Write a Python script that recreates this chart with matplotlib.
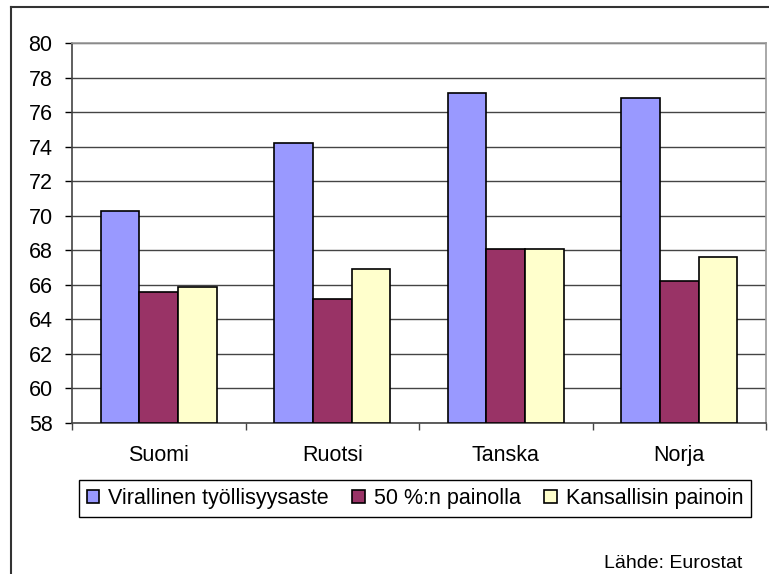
import matplotlib
matplotlib.use("Agg")
import matplotlib.pyplot as plt
from matplotlib.lines import Line2D
import numpy as np

plt.rcParams['font.family'] = ['Liberation Sans', 'DejaVu Sans']

categories = ["Suomi", "Ruotsi", "Tanska", "Norja"]
series_names = ["Virallinen työllisyysaste", "50 %:n painolla", "Kansallisin painoin"]
virallinen = [70.3, 74.2, 77.1, 76.8]
painolla50 = [65.6, 65.2, 68.1, 66.2]
kansallisin = [65.9, 66.9, 68.1, 67.6]
colors = ["#9999FF", "#993366", "#FFFFCC"]
yticks = list(range(58, 81, 2))

W, H = 769, 574
fig = plt.figure(figsize=(W/100, H/100), dpi=100)
ax = fig.add_axes([72/W, 1-423/H, (766-72)/W, (423-43)/H])

x = np.arange(len(categories))
bw = 0.667/3
for i, (vals, name, c) in enumerate(zip([virallinen, painolla50, kansallisin], series_names, colors)):
    ax.bar(x + (i-1)*bw, np.array(vals) - 58, bottom=58, width=bw, color=c,
           edgecolor='black', linewidth=1.2, label=name, zorder=3)

ax.set_xlim(-0.5, len(categories)-0.5)
ax.set_ylim(58, 80)
ax.set_yticks(yticks)
ax.set_yticklabels([str(t) for t in yticks], fontsize=15.5)
ax.yaxis.grid(True, color='#444444', linewidth=1.0, zorder=0)
ax.set_axisbelow(True)

ax.set_xticks(np.arange(-0.5, len(categories), 1.0))
ax.set_xticklabels([])
ax.set_xticks(x, minor=True)
ax.set_xticklabels(categories, minor=True, fontsize=15.5)
ax.tick_params(axis='x', which='minor', length=0, pad=16)
ax.tick_params(axis='x', which='major', length=5, width=1, color='#444444', direction='out')
ax.tick_params(axis='y', length=5, width=1, direction='out', pad=9)

for s in ['top', 'right']:
    ax.spines[s].set_color('#999999')
    ax.spines[s].set_linewidth(1.2)
for s in ['left', 'bottom']:
    ax.spines[s].set_color('#444444')
    ax.spines[s].set_linewidth(1.2)

leg = fig.legend(loc='center', bbox_to_anchor=(415/W, 1-498.5/H), ncol=3, fontsize=15.5,
                 frameon=True, fancybox=False, edgecolor='black', framealpha=1,
                 handlelength=0.6, handleheight=0.6, handletextpad=0.4, columnspacing=1.1,
                 borderpad=0.35)
leg.get_frame().set_linewidth(1.0)

fig.text(742/W, 1-563/H, "Lähde: Eurostat", ha='right', va='center', fontsize=14)

fig.add_artist(Line2D([11/W, 11/W], [0, 1-7/H], color='#333333', linewidth=1.5, transform=fig.transFigure))
fig.add_artist(Line2D([11/W, 1], [1-7/H, 1-7/H], color='#333333', linewidth=1.5, transform=fig.transFigure))

fig.savefig("out.png", dpi=100)
